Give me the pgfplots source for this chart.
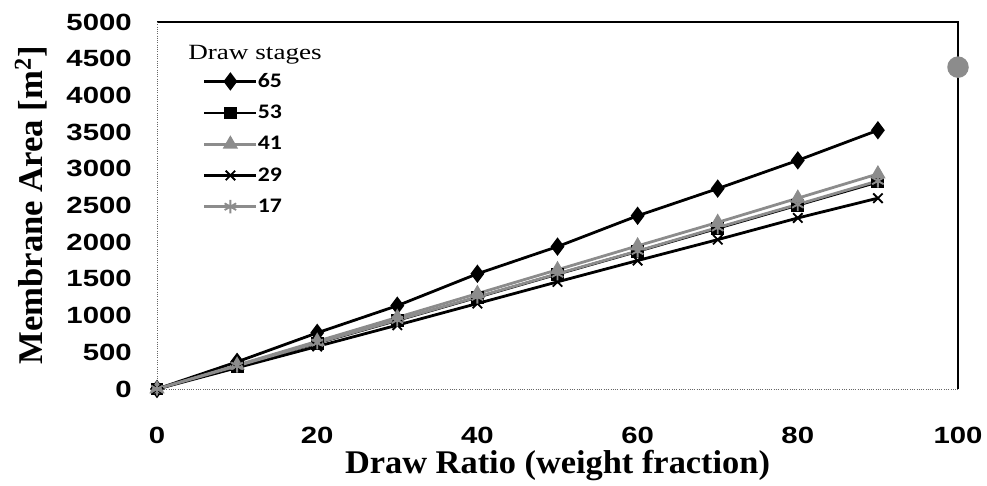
\documentclass[border=0pt]{standalone}
\usepackage{pgfplots}
\pgfplotsset{compat=1.18}
\usepackage{fontspec}
\setmainfont{Liberation Serif}
\newfontfamily\tickfont[FakeStretch=1.25]{Liberation Sans}
\newfontfamily\legfont[FakeStretch=1.15]{Carlito}
\newfontfamily\titlefont[FakeStretch=1.25]{Liberation Serif}
\newfontfamily\labelfont[FakeStretch=1.04]{Liberation Serif}
\definecolor{stipple}{gray}{0.55}

\begin{document}
\begin{tikzpicture}[x=0.75pt,y=0.75pt]
\begin{axis}[
  at={(0,0)}, anchor=south west,
  scale only axis,
  width=600.75pt, height=275.25pt,
  xmin=0, xmax=100, ymin=0, ymax=5000,
  xtick={0,20,...,100}, ytick={0,500,...,5000},
  axis line style={draw=none},
  tick style={draw=none},
  clip=false,
  /pgf/number format/assume math mode=true,
  /pgf/number format/1000 sep={},
  ticklabel style={font=\tickfont\bfseries\fontsize{17.6}{20}\selectfont, inner sep=0pt},
  yticklabel style={anchor=east, xshift=-18.75pt},
  xticklabel style={anchor=north, yshift=-28.5pt},
  xlabel={Draw Ratio (weight fraction)},
  ylabel={Membrane Area [m\textsuperscript{2}]},
  xlabel style={font=\labelfont\bfseries\fontsize{24.8}{28}\selectfont,
    at={(axis description cs:0.5,0)}, anchor=base, yshift=-63pt, inner sep=0pt},
  ylabel style={font=\bfseries\fontsize{26}{30}\selectfont,
    at={([xshift=-85.5pt]axis description cs:0,0.5)}, anchor=base, inner sep=0pt},
  legend cell align=left,
  legend style={draw=none, fill=none, at={(0.0574,0.86)}, anchor=north west,
    font=\legfont\bfseries\fontsize{15.5}{18}\selectfont,
    row sep=11.8pt, inner sep=0pt, outer sep=0pt,
    nodes={inner sep=0pt},
    /tikz/every even column/.append style={column sep=3pt}},
  legend image code/.code={%
    \draw[mark repeat=2,mark phase=2] plot coordinates {(0pt,0pt) (19.5pt,0pt) (39pt,0pt)};},
  every axis plot/.append style={line width=2.1pt},
]
% frame: solid top and right edges, fine dotted left and bottom edges
\draw[black, line width=1.6pt] (rel axis cs:0,1) -- (rel axis cs:1,1) -- (rel axis cs:1,0);
\draw[black!60, line width=0.7pt, densely dotted] (rel axis cs:0,1) -- (rel axis cs:0,0) -- (rel axis cs:1,0);

\addplot[black, mark=diamond*, mark size=5.2pt]
  coordinates {(0,0) (10,370) (20,765) (30,1135) (40,1570) (50,1940) (60,2360) (70,2730) (80,3115) (90,3525)};
\addlegendentry{65}
\addplot[black, mark=square*, mark size=3.8pt]
  coordinates {(0,0) (10,312) (20,625) (30,935) (40,1250) (50,1565) (60,1875) (70,2190) (80,2505) (90,2820)};
\addlegendentry{53}
\addplot[stipple, mark=triangle*, mark size=4.6pt]
  coordinates {(0,0) (10,325) (20,650) (30,975) (40,1300) (50,1625) (60,1950) (70,2270) (80,2600) (90,2930)};
\addlegendentry{41}
\addplot[black, mark=x, mark size=5pt, mark options={line width=1.4pt}]
  coordinates {(0,0) (10,290) (20,580) (30,870) (40,1165) (50,1460) (60,1750) (70,2035) (80,2330) (90,2600)};
\addlegendentry{29}
\addplot[stipple, mark=asterisk, mark size=5pt, mark options={line width=1.4pt}]
  coordinates {(0,0) (10,315) (20,630) (30,940) (40,1255) (50,1570) (60,1880) (70,2200) (80,2515) (90,2835)};
\addlegendentry{17}
\addplot[only marks, stipple, mark=*, mark size=7pt, forget plot]
  coordinates {(100,4385)};

\node[anchor=base west, inner sep=0pt, font=\titlefont\fontsize{16.3}{19}\selectfont]
  at (rel axis cs:0.0387,0.899) {Draw stages};
\end{axis}
\pgfresetboundingbox
\path[use as bounding box] (-157,-96) rectangle (830,389);
\end{tikzpicture}
\end{document}
